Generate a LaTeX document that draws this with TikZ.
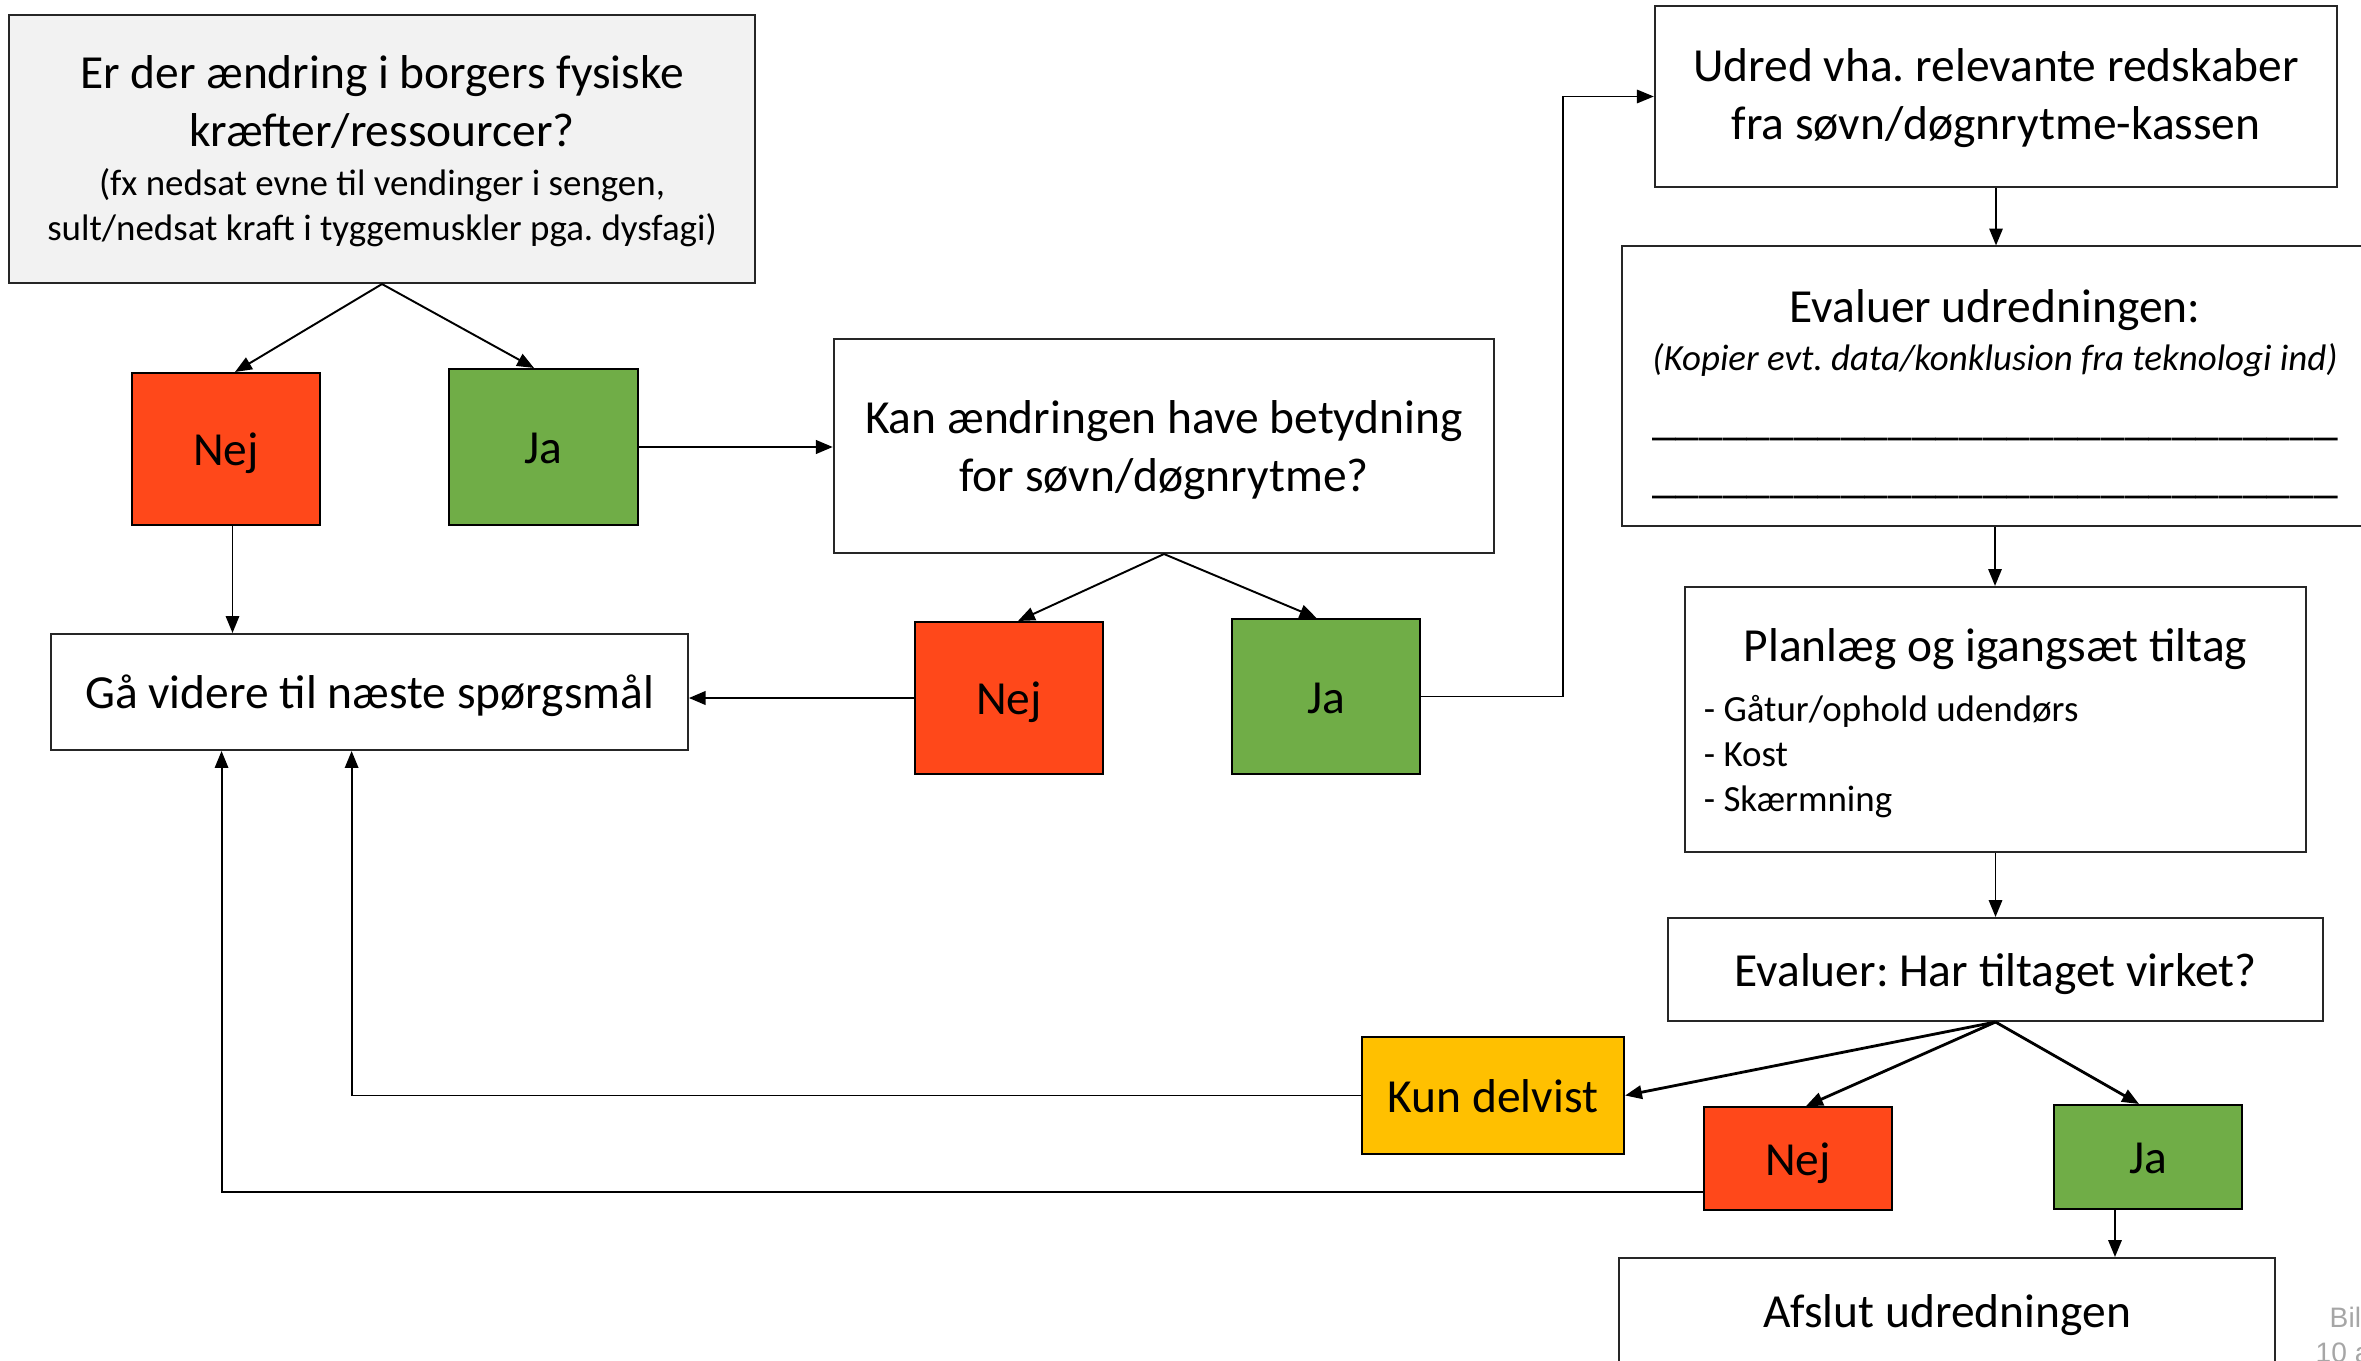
\documentclass[tikz,border=0pt]{standalone}
\usepackage{fontspec}
\setmainfont{Carlito}
\newfontfamily\notefont{Liberation Sans}
\usepackage{tikz}
\usetikzlibrary{positioning, arrows.meta}
\definecolor{flowred}{RGB}{255, 72, 26}
\definecolor{flowgreen}{RGB}{112, 173, 71}
\definecolor{flowyellow}{RGB}{255, 192, 0}
\definecolor{flowgray}{RGB}{242, 242, 242}
\definecolor{flownote}{RGB}{166, 166, 166}
\newcommand{\fbig}{\fontsize{13.5}{16.5}\selectfont}
\newcommand{\fsmall}{\fontsize{10.5}{12.8}\selectfont}
\newcommand{\blankline}{\_\_\_\_\_\_\_\_\_\_\_\_\_\_\_\_\_\_\_\_\_\_\_\_\_\_\_\_\_}
\newcommand{\topstrut}[1]{\rule{0pt}{#1}}

\begin{document}
\frenchspacing
\begin{tikzpicture}[x=0.01cm, y=-0.01cm,
    box/.style={draw=black!85, line width=0.55pt, inner sep=0pt, font=\fbig, align=flush center},
    oneline/.style={box, text height=9.45pt, text depth=0pt},
    choice/.style={oneline, draw=black, minimum width=1.88cm},
    arr/.style={-{Triangle[length=4.8pt, width=3.8pt]}, line width=0.55pt},
    arrthick/.style={arr, line width=0.8pt}]
    \clip (0,0) rectangle (2361,1361);
    % Question 1
    \node[box, fill=flowgray, minimum width=7.46cm, minimum height=2.68cm, text width=7.3cm] (q1) at (382,149)
      {\topstrut{10.7pt}Er der ændring i borgers fysiske\\kræfter/ressourcer?\par\vspace{1pt}\fsmall (fx nedsat evne til vendinger i sengen,\\sult/nedsat kraft i tyggemuskler pga. dysfagi)\par};
    \node[choice, fill=flowred, minimum height=1.52cm] (nej1) at (226,449) {Nej};
    \node[choice, fill=flowgreen, minimum height=1.56cm] (ja1) at (543.5,447) {Ja};
    \node[oneline, minimum width=6.36cm, minimum height=1.16cm] (goto) at (369.6,692) {Gå videre til næste spørgsmål};
    % Question 2
    \node[box, minimum width=6.6cm, minimum height=2.14cm, text width=6.4cm] (q2) at (1164,446)
      {\topstrut{11.5pt}Kan ændringen have betydning\\for søvn/døgnrytme?\par};
    \node[choice, fill=flowred, minimum height=1.52cm] (nej2) at (1009,698) {Nej};
    \node[choice, fill=flowgreen, minimum height=1.55cm] (ja2) at (1326,696.5) {Ja};
    % Right column
    \node[box, minimum width=6.82cm, minimum height=1.81cm, text width=6.6cm] (udred) at (1996,96.5)
      {\topstrut{10.3pt}Udred vha. relevante redskaber\\fra søvn/døgnrytme-kassen\par};
    \node[box, minimum width=7.46cm, minimum height=2.79cm, text width=7.2cm] (evud) at (1995,386)
      {\topstrut{14pt}Evaluer udredningen:\par\vspace{0.8pt}{\fsmall\itshape (Kopier evt. data/konklusion fra teknologi ind)\par}\vspace{1.8pt}\blankline\\\blankline\par};
    \node[box, align=flush left, minimum width=6.21cm, minimum height=2.65cm, text width=5.83cm] (plan) at (1995.5,719.5)
      {{\centering\topstrut{11.5pt}Planlæg og igangsæt tiltag\par}\vspace{4.5pt}\fsmall - Gåtur/ophold udendørs\\- Kost\\- Skærmning\par};
    \node[oneline, minimum width=6.55cm, minimum height=1.03cm] (evtilt) at (1995.5,969.5) {Evaluer: Har tiltaget virket?};
    \node[oneline, draw=black, fill=flowyellow, minimum width=2.62cm, minimum height=1.17cm] (kun) at (1493,1095.5) {Kun delvist};
    \node[choice, fill=flowred, minimum height=1.03cm] (nej3) at (1798,1158.5) {Nej};
    \node[choice, fill=flowgreen, minimum height=1.04cm] (ja3) at (2148,1157) {Ja};
    \node[oneline, minimum width=6.55cm, minimum height=1.06cm] (afslut) at (1947,1311) {Afslut udredningen};
    % Note in the corner
    \node[anchor=base west, inner sep=0pt, text=flownote, font=\notefont\fontsize{8}{10}\selectfont] (bil) at (2329,1327) {Bil};
    \node[anchor=base west, inner sep=0pt, text=flownote, font=\notefont\fontsize{8}{10}\selectfont] (tien) at (2315,1362) {10 a};
    % Connectors
    \draw[arr] (q1.south) -- ([xshift=0.09cm]nej1.north);
    \draw[arr] (q1.south) -- ([xshift=-0.095cm]ja1.north);
    \draw[arr] ([xshift=0.065cm]nej1.south) -- ([xshift=0.065cm]nej1.south |- goto.north);
    \draw[arrthick] (ja1.east) -- (ja1.east -| q2.west);
    \draw[arr] (q2.south) -- ([xshift=0.09cm]nej2.north);
    \draw[arr] (q2.south) -- ([xshift=-0.095cm]ja2.north);
    \draw[arrthick] (nej2.west) -- (nej2.west -| goto.east);
    \draw[arr] (ja2.east) -- ++(142,0) |- (udred.west);
    \draw[arr] (udred.south) -- (udred.south |- evud.north);
    \draw[arr] (evud.south) -- (evud.south |- plan.north);
    \draw[arr] (plan.south) -- (plan.south |- evtilt.north);
    \draw[arrthick] (evtilt.south) -- (kun.east);
    \draw[arrthick] (evtilt.south) -- ([xshift=0.08cm]nej3.north);
    \draw[arrthick] (evtilt.south) -- ([xshift=-0.09cm]ja3.north);
    \draw[arr] ([xshift=-0.33cm]ja3.south) -- ([xshift=-0.33cm]ja3.south |- afslut.north);
    \draw[arr] (kun.west) -| ([xshift=3.01cm]goto.south west);
    \draw[arr] ([yshift=-0.335cm]nej3.west) -| ([xshift=1.71cm]goto.south west);
\end{tikzpicture}
\end{document}
